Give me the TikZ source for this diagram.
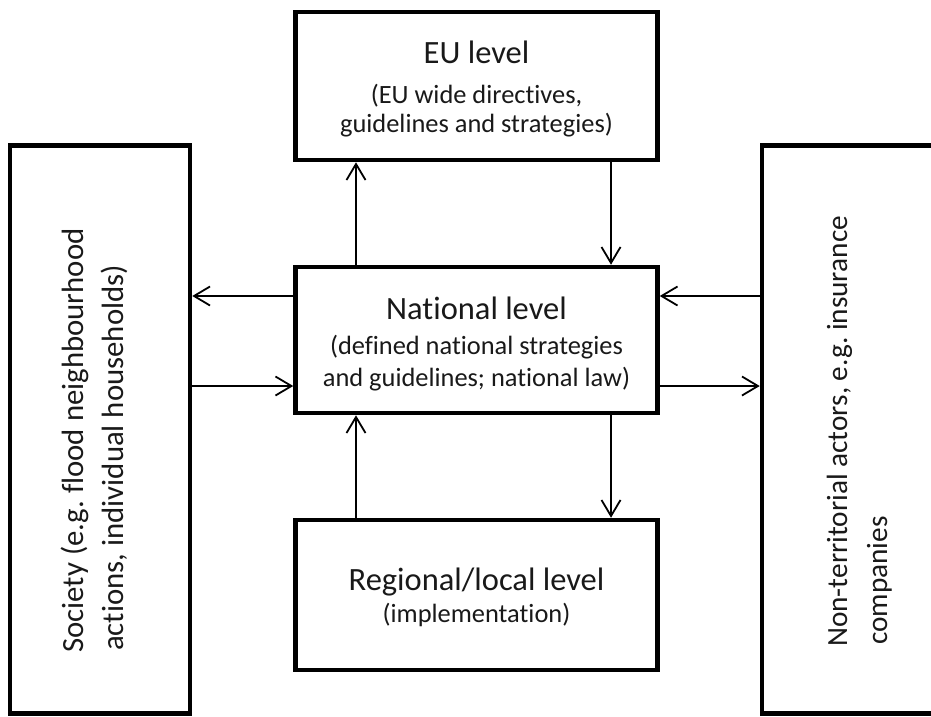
\documentclass[tikz,border=0pt]{standalone}
\usepackage{fontspec}
\setmainfont{Carlito}[Ligatures={NoCommon}]
\usetikzlibrary{arrows.meta}
\frenchspacing

\tikzset{
  levelbox/.style={draw=black, line width=4.5pt, rectangle, inner sep=0pt, fill=white},
  titletext/.style={font=\fontsize{32.5}{38}\selectfont, inner sep=0pt, anchor=base, text=black!90},
  subtext/.style={font=\fontsize{26.4}{31}\selectfont, inner sep=0pt, anchor=base, text=black!90},
  sidetext/.style={font=\fontsize{30.8}{37}\selectfont, inner sep=0pt, anchor=base west, rotate=90, text=black!90},
  sidetextr/.style={sidetext, font=\fontsize{29.3}{37}\selectfont},
  flow/.style={draw=black, line width=1.8pt, -{Straight Barb[length=16pt,width=19pt]}},
}

\begin{document}
\begin{tikzpicture}[x=1pt, y=-1pt]
  \clip (0,0) rectangle (931,716);
  \fill[white] (0,0) rectangle (931,716);

  % boxes
  \node[levelbox, minimum width=362pt, minimum height=148pt] (eu)  at (476.5,86)  {};
  \node[levelbox, minimum width=362pt, minimum height=146pt] (nat) at (476.5,340) {};
  \node[levelbox, minimum width=362pt, minimum height=150pt] (reg) at (476.5,595) {};
  \node[levelbox, minimum width=180pt, minimum height=568pt] (soc) at (100,429.5) {};
  \node[levelbox, minimum width=200pt, minimum height=568pt] (ins) at (862,429.5) {};

  % box texts
  \node[titletext] (eu1) at (476.5,63)  {EU level};
  \node[subtext]   (eu2) at (476.5,103) {(EU wide directives,};
  \node[subtext]   (eu3) at (476.5,132) {guidelines and strategies)};

  \node[titletext] (nat1) at (476.5,319) {National level};
  \node[subtext]   (nat2) at (476.5,354) {(defined national strategies};
  \node[subtext]   (nat3) at (476.5,386) {and guidelines; national law)};

  \node[titletext] (reg1) at (476.5,590) {Regional/local level};
  \node[subtext]   (reg2) at (476.5,622) {(implementation)};

  \node[sidetext] (soc1) at (83,653)  {Society (e.g. flood neighbourhood};
  \node[sidetext] (soc2) at (123,651) {actions, individual households)};

  \node[sidetextr] (ins1) at (847,647) {Non-territorial actors, e.g. insurance};
  \node[sidetextr] (ins2) at (887,645) {companies};

  % connector positions
  \coordinate (xl) at (356,0);
  \coordinate (xr) at (611,0);
  \coordinate (yu) at (0,296);
  \coordinate (yd) at (0,386);

  % connectors
  \draw[flow] (nat.north -| xl) -- (eu.south -| xl);
  \draw[flow] (eu.south -| xr) -- (nat.north -| xr);
  \draw[flow] (reg.north -| xl) -- (nat.south -| xl);
  \draw[flow] (nat.south -| xr) -- (reg.north -| xr);
  \draw[flow] (nat.west |- yu) -- (soc.east |- yu);
  \draw[flow] (soc.east |- yd) -- (nat.west |- yd);
  \draw[flow] (ins.west |- yu) -- (nat.east |- yu);
  \draw[flow] (nat.east |- yd) -- (ins.west |- yd);
\end{tikzpicture}
\end{document}
